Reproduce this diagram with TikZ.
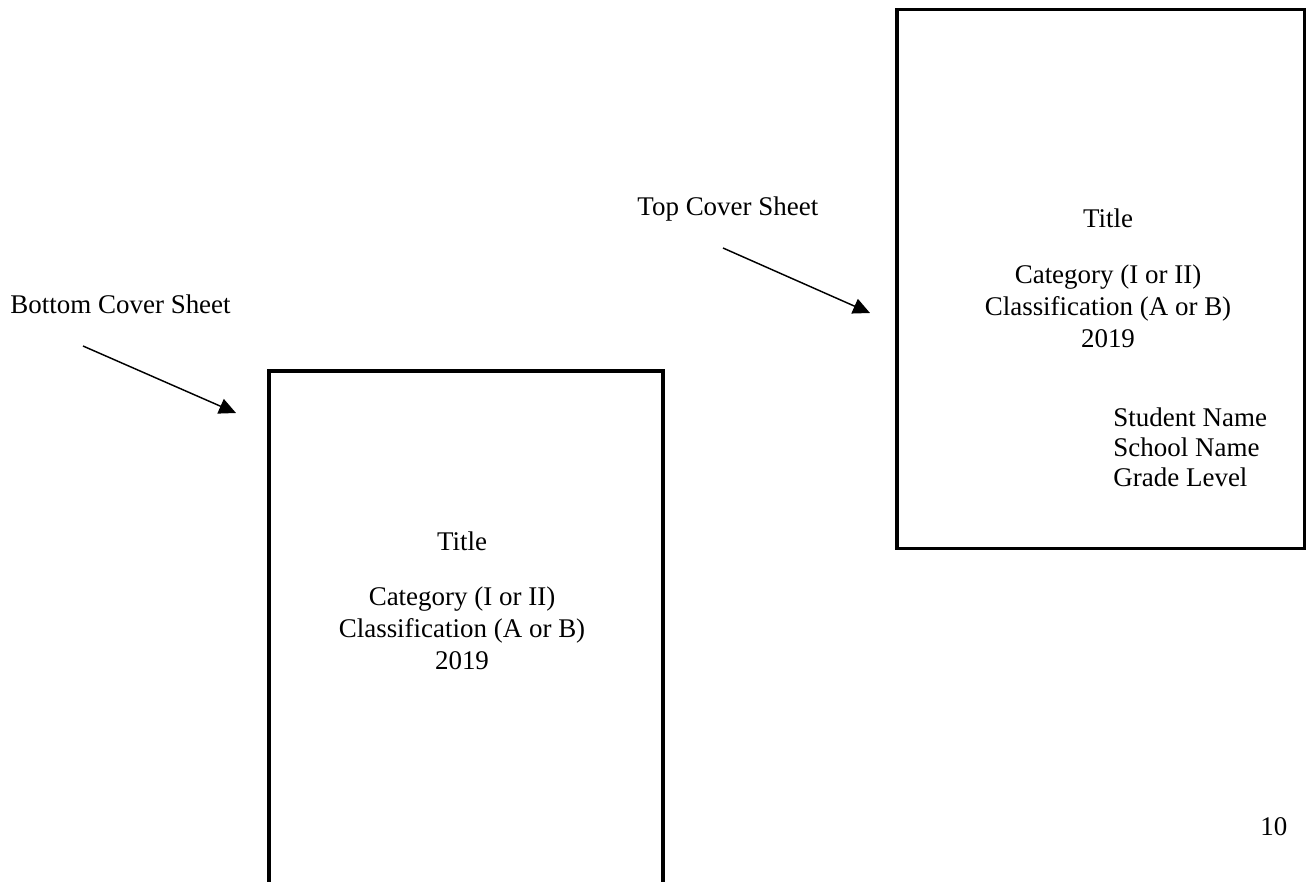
\documentclass[tikz,border=0pt]{standalone}
\usepackage{fontspec}
\setmainfont{Liberation Serif}
\usetikzlibrary{arrows.meta}

\tikzset{
	sheet/.style = {line width=1.5pt},
	pointer/.style = {line width=0.65pt, -{Triangle[length=7.5pt,width=7pt]}},
	txt/.style = {anchor=base, inner sep=0pt, font=\fontsize{12}{14}\selectfont}
}

\begin{document}
\begin{tikzpicture}[x=0.445pt, y=-0.445pt]
		\useasboundingbox (0,0) rectangle (1306,882);
		\clip (0,0) rectangle (1306,882);
		% bottom cover sheet
		\draw [sheet] (269,900) -- (269,371) -- (663,371) -- (663,900);
		\node[txt] (bTitle) at (462,550) {Title};
		\node[txt] (bCat) at (462,605) {Category (I or II)};
		\node[txt] (bClass) at (462,637) {Classification (A or B)};
		\node[txt] (bYear) at (462,669) {2019};
		% top cover sheet
		\draw [sheet] (897,9.5) rectangle (1305,548.5);
		\node[txt] (tTitle) at (1108,227) {Title};
		\node[txt] (tCat) at (1108,283) {Category (I or II)};
		\node[txt] (tClass) at (1108,315) {Classification (A or B)};
		\node[txt] (tYear) at (1108,347) {2019};
		\node[txt, anchor=base west] (tStudent) at (1113,426) {Student Name};
		\node[txt, anchor=base west] (tSchool) at (1113,456) {School Name};
		\node[txt, anchor=base west] (tGrade) at (1113,486) {Grade Level};
		% labels and arrows
		\node[txt, anchor=base west] (bLabel) at (10,313) {Bottom Cover Sheet};
		\node[txt, anchor=base west] (tLabel) at (637,215) {Top Cover Sheet};
		\coordinate (bFrom) at (83,346);
		\coordinate (bTo) at (236,413);
		\coordinate (tFrom) at (723,248);
		\coordinate (tTo) at (870,313);
		\draw [pointer] (bFrom) -- (bTo);
		\draw [pointer] (tFrom) -- (tTo);
		\node[txt, anchor=base west] (pageNo) at (1260,835) {10};
	\end{tikzpicture}
\end{document}
